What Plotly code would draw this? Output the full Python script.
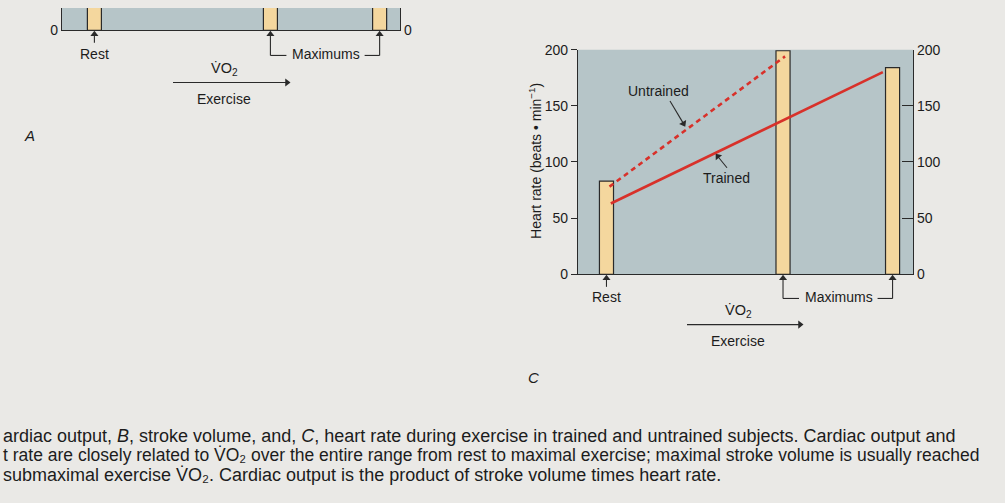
import math
import plotly.graph_objects as go

# ---------------- data ----------------
bar_labels = ["Rest", "Maximum (untrained)", "Maximum (trained)"]
bar_pos = [0.85, 6.12, 9.39]            # position along the VO2 / exercise axis
hr_bars = [83, 199, 184]                # heart rate bars (beats/min), panel C
co_bars = [5.5, 22, 35]                 # cardiac output bars, panel A (only base visible)

untrained_x = [0.94, 6.18]
untrained_hr = [78, 194]
trained_x = [0.98, 9.10]
trained_hr = [63, 180]

hr_ticks = [0, 50, 100, 150, 200]

W, H = 1005, 503
def X(p): return p / W
def Y(p): return 1 - p / H

BAR_FILL = "#f4d79e"
EDGE = "#2a2a2a"
RED = "#d8312a"
TXT = "#1c1c1c"
PLOT_BG = "#b6c5c8"
FONT = "Liberation Sans, Arial, sans-serif"

# pixel geometry of the two panels
C_X0, C_X1, C_RANGE = 578, 913, [0, 10]
A_X0, A_X1, A_RANGE = 62, 400, [-0.12, 10.0]

fig = go.Figure()

# Panel C bars
fig.add_trace(go.Bar(x=bar_pos, y=hr_bars, width=0.42, marker=dict(color=BAR_FILL, line=dict(color=EDGE, width=1.2)),
                     xaxis="x", yaxis="y", showlegend=False, hoverinfo="skip"))
# Panel C lines
fig.add_trace(go.Scatter(x=untrained_x, y=untrained_hr, mode="lines", line=dict(color=RED, width=2.6, dash="5px,4px"),
                         xaxis="x", yaxis="y", showlegend=False, hoverinfo="skip"))
fig.add_trace(go.Scatter(x=trained_x, y=trained_hr, mode="lines", line=dict(color=RED, width=2.6),
                         xaxis="x", yaxis="y", showlegend=False, hoverinfo="skip"))
# Panel A bars (clipped, only bottom visible)
fig.add_trace(go.Bar(x=bar_pos, y=co_bars, width=0.42, marker=dict(color=BAR_FILL, line=dict(color=EDGE, width=1.2)),
                     xaxis="x2", yaxis="y2", showlegend=False, hoverinfo="skip"))
# dummy traces so the right axes render
fig.add_trace(go.Scatter(x=[None], y=[None], xaxis="x", yaxis="y3", showlegend=False, hoverinfo="skip"))
fig.add_trace(go.Scatter(x=[None], y=[None], xaxis="x2", yaxis="y4", showlegend=False, hoverinfo="skip"))

axis_common = dict(showgrid=False, zeroline=False, linecolor=EDGE, linewidth=1.2,
                   tickfont=dict(family=FONT, size=14, color=TXT), tickcolor=EDGE, fixedrange=True)
hidden = dict(visible=False, showgrid=False, zeroline=False, fixedrange=True)

fig.update_layout(
    width=W, height=H, margin=dict(l=0, r=0, t=0, b=0),
    paper_bgcolor="#eae9e6", plot_bgcolor="rgba(0,0,0,0)",
    barmode="overlay", hovermode=False,
    xaxis=dict(domain=[X(C_X0), X(C_X1)], range=C_RANGE, showticklabels=False, ticks="", showline=True,
               showgrid=False, zeroline=False, linecolor=EDGE, linewidth=1.4, fixedrange=True),
    yaxis=dict(domain=[Y(275), Y(43)], range=[0, 200], tickvals=hr_ticks, ticks="outside", ticklen=6,
               showline=True, anchor="x", **axis_common),
    yaxis3=dict(domain=[Y(275), Y(43)], range=[0, 200], tickvals=hr_ticks, ticks="inside", ticklen=11,
                showline=True, side="right", overlaying="y", anchor="x", **axis_common),
    xaxis2=dict(domain=[X(A_X0), X(A_X1)], range=A_RANGE, showticklabels=False, ticks="", showline=True,
                showgrid=False, zeroline=False, linecolor=EDGE, linewidth=1.4, anchor="y2", fixedrange=True),
    yaxis2=dict(domain=[Y(23), 1], range=[0, 4], tickvals=[0], ticks="", showline=True, anchor="x2", **axis_common),
    yaxis4=dict(domain=[Y(23), 1], range=[0, 4], tickvals=[0], ticks="", showline=True, side="right",
                overlaying="y2", anchor="x2", **axis_common),
    # full-figure pixel overlay used for the small pointer arrows
    xaxis5=dict(domain=[0, 1], range=[0, W], anchor="y5", **hidden),
    yaxis5=dict(domain=[0, 1], range=[H, 0], anchor="x5", **hidden),
)

# plot-area backgrounds
for xr, yr in (("x domain", "y domain"), ("x2 domain", "y2 domain")):
    fig.add_shape(type="rect", xref=xr, yref=yr, x0=0, x1=1, y0=0, y1=1, layer="below",
                  fillcolor=PLOT_BG, line=dict(width=0))

ann = []
def text(x, y, s, size=14, xanchor="center", italic=False, angle=0):
    if italic:
        s = "<i>" + s + "</i>"
    ann.append(dict(x=X(x), y=Y(y), xref="paper", yref="paper", text=s, showarrow=False, xanchor=xanchor,
                    yanchor="middle", textangle=angle, font=dict(family=FONT, size=size, color=TXT)))

seg_x, seg_y = [], []
head_x, head_y, head_ang = [], [], []
def seg(x0, y0, x1, y1):
    seg_x.extend([x0, x1, None]); seg_y.extend([y0, y1, None])

def arrow(hx, hy, tx, ty):
    dx, dy = hx - tx, hy - ty
    L = math.hypot(dx, dy)
    ux, uy = dx / L, dy / L
    back = 3.0
    seg(tx, ty, hx - ux * back, hy - uy * back)
    head_x.append(hx - ux * back); head_y.append(hy - uy * back)
    head_ang.append(math.degrees(math.atan2(dx, -dy)))

VO2 = "V\u0307O<sub>2</sub>"
VO2_inline = "V\u0307O\u2082"

# -------- panel C annotations --------
text(535, 158, "Heart rate (beats \u2022 min<sup>\u22121</sup>)", angle=-90)
text(658, 86, "Untrained")
arrow(685, 122, 670, 96)
text(726, 176, "Trained")
arrow(716, 151, 727, 165)

def under_bars(px0, px1, rng, ybase, ylbl, cx_vo2, y_vo2, ax0, ax1, y_arrow, y_ex, letter):
    def bx(v):
        return px0 + (v - rng[0]) / (rng[1] - rng[0]) * (px1 - px0)
    r, m, t = [bx(v) for v in bar_pos]
    arrow(r, ybase + 1, r, ybase + 13)
    text(r, ylbl, "Rest", size=14)
    arrow(m, ybase + 1, m, ylbl + 2)
    seg(m, ylbl + 2, m + 16, ylbl + 2)
    text((m + t) / 2 + 1, ylbl, "Maximums", size=14)
    seg(t - 15, ylbl + 2, t, ylbl + 2)
    arrow(t, ybase + 1, t, ylbl + 2)
    text(cx_vo2, y_vo2, VO2, size=14.5)
    arrow(ax1, y_arrow, ax0, y_arrow)
    text(cx_vo2, y_ex, "Exercise", size=14)
    text(letter[0], letter[1], letter[2], size=15, italic=True)

under_bars(C_X0, C_X1, C_RANGE, 275, 298, 738, 313, 687, 803, 327, 344, (533, 382, "C"))
under_bars(A_X0, A_X1, A_RANGE, 23, 47, 224, 63, 173, 290, 77, 94, (29, 132, "A"))

fig.add_trace(go.Scatter(x=seg_x, y=seg_y, mode="lines", line=dict(color=EDGE, width=1.1),
                         xaxis="x5", yaxis="y5", showlegend=False, hoverinfo="skip"))
fig.add_trace(go.Scatter(x=head_x, y=head_y, mode="markers",
                         marker=dict(symbol="triangle-up", size=7, color=EDGE, angle=head_ang, line=dict(width=0)),
                         xaxis="x5", yaxis="y5", showlegend=False, hoverinfo="skip"))

# -------- caption --------
cap = [
    "ardiac output, <i>B</i>, stroke volume, and, <i>C</i>, heart rate during exercise in trained and untrained subjects. Cardiac output and",
    "t rate are closely related to " + VO2_inline + " over the entire range from rest to maximal exercise; maximal stroke volume is usually reached",
    "submaximal exercise " + VO2_inline + ". Cardiac output is the product of stroke volume times heart rate.",
]
cap_size = [18, 17.5, 18]
for i, s in enumerate(cap):
    text(1, 442 + 20 * i, s, size=cap_size[i], xanchor="left")

fig.update_layout(annotations=ann)
post = ("document.body.style.margin='0px';document.body.style.overflow='hidden';"
        "var gd=document.getElementById('{plot_id}');gd.style.position='fixed';"
        "gd.style.top='0px';gd.style.left='0px';")
fig.write_html("out.html", config={"displayModeBar": False}, post_script=post)
